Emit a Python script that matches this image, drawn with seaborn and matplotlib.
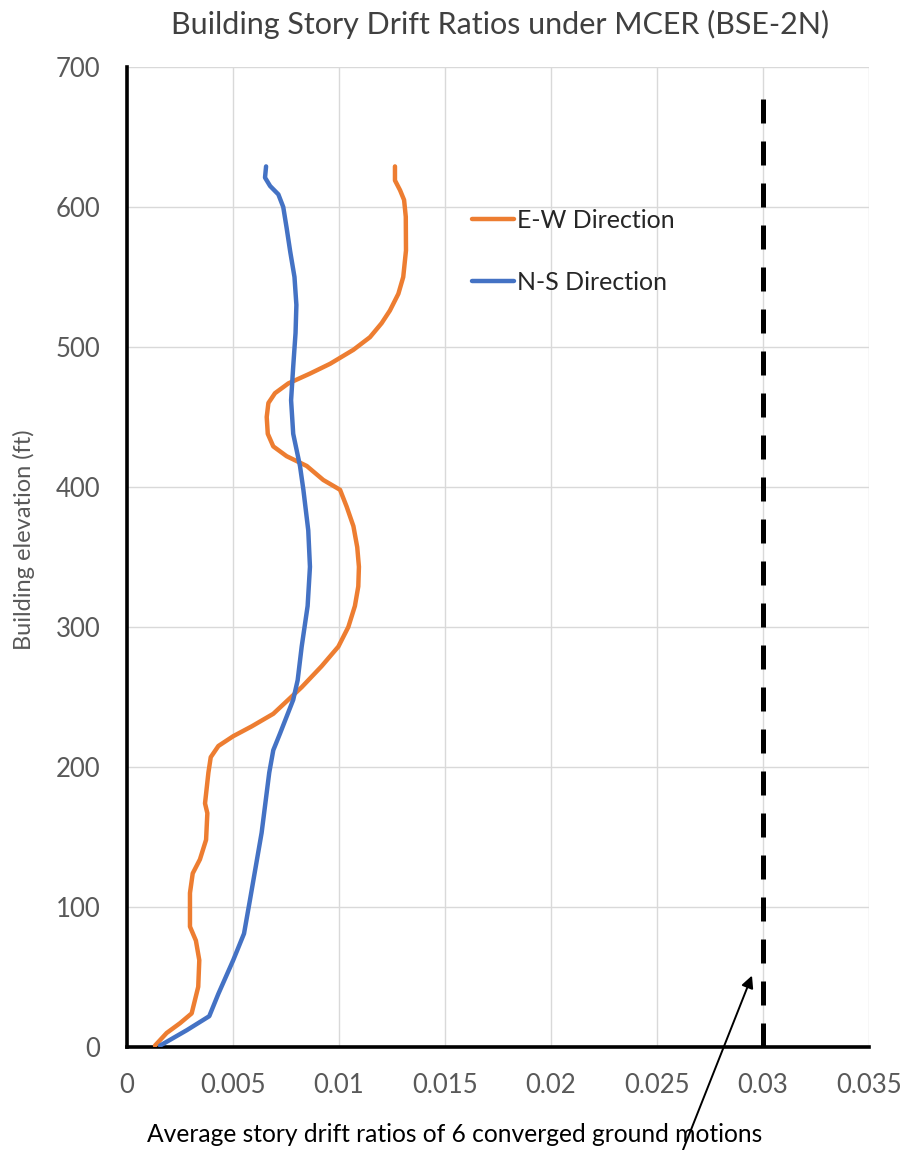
import matplotlib
matplotlib.use("Agg")
import matplotlib.pyplot as plt
import seaborn as sns
import pandas as pd

# Story drift ratio profiles (drift ratio vs. building elevation in ft)
ew_drift = [0.00132, 0.00187, 0.00250, 0.00305, 0.00336, 0.00341, 0.00325, 0.00297,
            0.00297, 0.00310, 0.00344, 0.00373, 0.00379, 0.00368, 0.00384, 0.00395,
            0.00431, 0.00501, 0.00588, 0.00690, 0.00824, 0.00918, 0.00997, 0.01044,
            0.01075, 0.01091, 0.01094, 0.01086, 0.01068, 0.01036, 0.01005, 0.00926,
            0.00848, 0.00753, 0.00690, 0.00664, 0.00659, 0.00667, 0.00698, 0.00761,
            0.00863, 0.00958, 0.01068, 0.01146, 0.01201, 0.01240, 0.01280, 0.01303,
            0.01316, 0.01315, 0.01307, 0.01288, 0.01264, 0.01264]
ew_elev = [1, 10, 17, 24, 43, 62, 76, 86,
           110, 124, 134, 148, 167, 174, 196, 207,
           215, 222, 229, 238, 257, 272, 286, 300,
           315, 329, 343, 357, 372, 386, 398, 405,
           415, 422, 429, 438, 450, 460, 467, 474,
           481, 488, 498, 507, 517, 526, 538, 550,
           569, 593, 605, 612, 619, 629]

ns_drift = [0.00156, 0.00282, 0.00388, 0.00431, 0.00501, 0.00552, 0.00580, 0.00635,
            0.00671, 0.00690, 0.00722, 0.00753, 0.00784, 0.00805, 0.00824, 0.00852,
            0.00863, 0.00855, 0.00832, 0.00816, 0.00784, 0.00774, 0.00784, 0.00795,
            0.00799, 0.00790, 0.00770, 0.00753, 0.00737, 0.00714, 0.00675, 0.00651,
            0.00656]
ns_elev = [1, 12, 22, 38, 62, 81, 105, 153,
           196, 212, 224, 236, 248, 262, 286, 315,
           343, 369, 398, 415, 438, 462, 486, 510,
           530, 550, 568, 585, 600, 609, 615, 621,
           629]

limit_drift = [0.03, 0.03]
limit_elev = [0, 680]

x_ticks = [0, 0.005, 0.01, 0.015, 0.02, 0.025, 0.03, 0.035]
x_tick_labels = ["0", "0.005", "0.01", "0.015", "0.02", "0.025", "0.03", "0.035"]
y_ticks = [0, 100, 200, 300, 400, 500, 600, 700]

sns.set_theme(style="white")
plt.rcParams["font.family"] = ["Lato", "DejaVu Sans"]

W, H = 904, 1150
fig = plt.figure(figsize=(W / 100, H / 100), dpi=100)
ax = fig.add_axes([127 / W, 1 - 1047 / H, (869 - 127) / W, (1047 - 67) / H])

ew = pd.DataFrame({"drift": ew_drift, "elev": ew_elev})
ns = pd.DataFrame({"drift": ns_drift, "elev": ns_elev})

sns.lineplot(data=ew, x="drift", y="elev", sort=False, estimator=None, ax=ax,
             color="#ED7D31", lw=3.2, label="E-W Direction", zorder=4)
sns.lineplot(data=ns, x="drift", y="elev", sort=False, estimator=None, ax=ax,
             color="#4472C4", lw=3.2, label="N-S Direction", zorder=4)
ax.plot(limit_drift, limit_elev, color="black", lw=3.6, dashes=(4.8, 3.6), zorder=5)

ax.set_xlim(0, 0.035)
ax.set_ylim(0, 700)
ax.set_xticks(x_ticks)
ax.set_xticklabels(x_tick_labels)
ax.set_yticks(y_ticks)
ax.grid(True, color="#d9d9d9", lw=1.0)
ax.set_axisbelow(True)

for side in ("top", "right"):
    ax.spines[side].set_visible(False)
for side in ("left", "bottom"):
    ax.spines[side].set_color("black")
    ax.spines[side].set_linewidth(2.6)

ax.tick_params(axis="both", length=0, labelsize=18.5, labelcolor="#595959")
ax.tick_params(axis="x", pad=19)
ax.tick_params(axis="y", pad=19)

ax.set_xlabel("")
ax.set_ylabel("")
fig.text(24 / W, 1 - 540 / H, "Building elevation (ft)", rotation=90,
         ha="center", va="center", fontsize=17, color="#595959")

fig.text(500 / W, 1 - 34 / H, "Building Story Drift Ratios under MCER (BSE-2N)",
         ha="center", va="baseline", fontsize=22, color="#404040")

ax.legend(loc="upper left", bbox_to_anchor=((472 - 127) / 742, (1047 - 209) / 980),
          frameon=False, fontsize=18, handlelength=1.7, handletextpad=0.12,
          labelspacing=1.55, borderaxespad=0, borderpad=0)

fig.text(455 / W, 1 - 1142 / H, "Average story drift ratios of 6 converged ground motions",
         ha="center", va="baseline", fontsize=17.7, color="black")

ax.annotate("", xy=(0.02948, 51), xycoords="data",
            xytext=(683 / W, 0.0), textcoords="figure fraction",
            arrowprops=dict(arrowstyle="-|>", color="black", lw=1.4,
                            mutation_scale=18, shrinkA=0, shrinkB=0),
            annotation_clip=False)

fig.savefig("out.png", dpi=100)
